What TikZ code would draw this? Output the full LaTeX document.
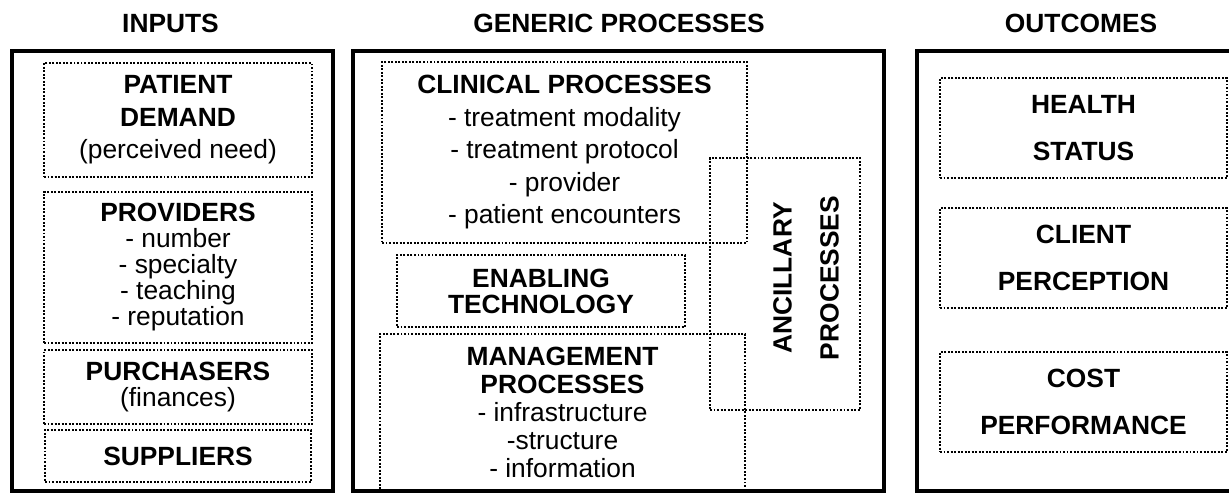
\documentclass[tikz,border=0pt]{standalone}
\usepackage{fontspec}
\setmainfont{Liberation Sans}
\begin{document}
\begin{tikzpicture}[x=0.02cm,y=-0.02cm,
  frame/.style={draw,line width=2.4pt,inner sep=0pt},
  box/.style={draw,line width=1.4pt,dash pattern=on 1.1pt off 0.9pt,inner sep=0pt,align=center,font=\fontsize{15}{18.5}\selectfont},
  tight/.style={font=\fontsize{15}{14.8}\selectfont},
  wide/.style={font=\fontsize{15}{26.7}\selectfont},
  head/.style={anchor=base,font=\fontsize{15}{18}\selectfont\bfseries}]
  \clip (0,0) rectangle (1229,493);

  \node[head] (hin) at (170.5,33) {INPUTS};
  \node[head] (hgen) at (619,33) {GENERIC PROCESSES};
  \node[head] (hout) at (1081,33) {OUTCOMES};

  \node[box,minimum width=5.36cm,minimum height=2.28cm] (demand) at (178,120) {\textbf{PATIENT}\\\textbf{DEMAND}\\(perceived need)};
  \node[box,tight,minimum width=5.36cm,minimum height=3.02cm] (providers) at (178,267.5) {\textbf{PROVIDERS}\\- number\\- specialty\\- teaching\\- reputation};
  \node[box,tight,minimum width=5.36cm,minimum height=1.48cm] (purchasers) at (178,387) {\textbf{PURCHASERS}\\(finances)};
  \node[box,minimum width=5.32cm,minimum height=1.04cm] (suppliers) at (178,456) {\textbf{SUPPLIERS}};

  \node[box,minimum width=7.3cm,minimum height=3.62cm] (clinical) at (564.5,152.5) {\textbf{CLINICAL PROCESSES}\\- treatment modality\\- treatment protocol\\- provider\\- patient encounters};
  \node[box,tight,minimum width=5.76cm,minimum height=1.44cm] (enabling) at (541,291) {\textbf{ENABLING}\\\textbf{TECHNOLOGY}};
  \node[box,font=\fontsize{15}{16}\selectfont,minimum width=7.3cm,minimum height=3.14cm] (management) at (562.5,412.5) {\textbf{MANAGEMENT}\\\textbf{PROCESSES}\\- infrastructure\\-structure\\- information};
  \node[box,minimum width=3cm,minimum height=5.04cm] (ancillary) at (785,284) {};
  \node[wide,align=center,rotate=90] (anctext) at (806,278) {\textbf{ANCILLARY}\\\textbf{PROCESSES}};

  \foreach \name/\y/\top/\bot in {health/128/HEALTH/STATUS,client/258/CLIENT/PERCEPTION,cost/402/COST/PERFORMANCE}
    \node[box,wide,minimum width=5.74cm,minimum height=2cm] (\name) at (1083.5,\y) {\textbf{\top}\\\textbf{\bot}};

  \node[frame,minimum width=6.42cm,minimum height=8.8cm] (inputs) at (172.5,271) {};
  \node[frame,minimum width=10.62cm,minimum height=8.8cm] (generic) at (618.5,271) {};
  \node[frame,minimum width=6.46cm,minimum height=8.8cm] (outcomes) at (1078.5,271) {};
\end{tikzpicture}
\end{document}
